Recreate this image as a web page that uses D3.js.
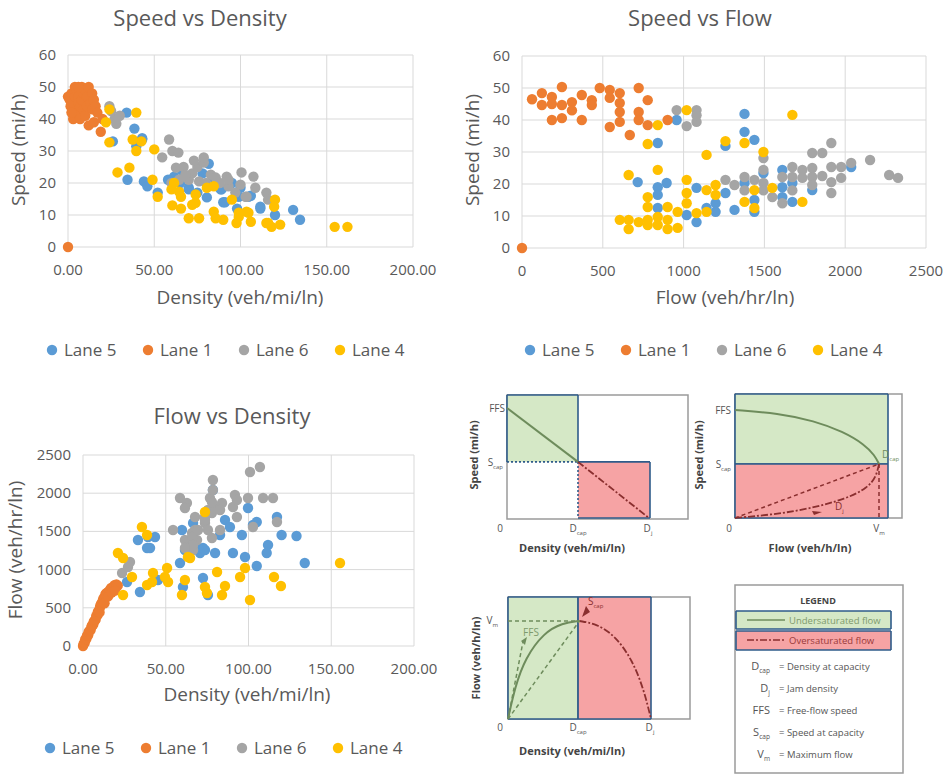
<!DOCTYPE html>
<html>
<head>
<meta charset="utf-8">
<script src="https://cdnjs.cloudflare.com/ajax/libs/d3/7.8.5/d3.min.js"></script>
<style>
  body { margin: 0; background: #fff; }
  svg { display: block; font-family: "Open Sans", sans-serif; }
</style>
</head>
<body>
<div id="chart"></div>
<script>
var lanes = ["Lane 5", "Lane 1", "Lane 6", "Lane 4"];
var laneColors = ["#5b9bd5", "#ed7d31", "#a5a5a5", "#ffc000"];

// Speed vs Density  [density, speed]
var sdLane5 = [[34,42],[38.5,37],[43,34],[39.6,31.5],[26,33],[34.5,21],[44,20.5],[46,19],[52,17],[43,33.6],[61.5,22],[70,18.5],[80.5,15.5],[90,14],[88.5,18],[99,15.7],[98,12],[111.5,12.6],[104.6,15.7],[81.6,26],[89,18],[91,14],[100,18.5],[111.5,12],[130.5,11.6],[134.5,8.5],[106,16],[70,18],[65,20],[75,17],[58,21],[84,21],[95,20],[120,10],[66,24],[78,23]];
var sdLane1 = [[0,0],[0,47],[1,46],[1.5,44],[2,48],[3,45],[3,40],[4,50],[4,47],[5,49],[5,42],[6,47],[6,45],[7,44],[7,40],[8,46],[8,50],[9,48],[9,43],[10,49],[10,41],[11,47],[11,44],[12,50],[12,38],[13,45],[14,43],[14,48],[15,46],[15,39],[16,44],[17,42],[19,36],[20,40],[2,42],[6,50]];
var sdLane6 = [[25,42.5],[27,40],[28,38.5],[24,44],[30,41],[58.6,33.6],[60.5,30],[54.6,28],[64,29.5],[62.6,24.8],[67,25],[72,23],[75,25],[78.7,26.4],[78.7,28],[82.8,22.6],[85.6,21.7],[92,22],[93,19],[100.6,23.3],[107.5,22],[108.6,18.5],[103,15.7],[64.4,21],[70,21],[76,20.5],[93,21],[100,19.5],[115,17],[116,14.8],[103.5,15.7],[80,20],[88,20],[97,17],[68,22.5],[73,27],[60,20]];
var sdLane4 = [[24,43],[22,39],[24,32.7],[39.6,42],[37.5,33.6],[42.5,33],[39.6,30],[50,30.5],[28.7,23.3],[35.6,24.8],[49,21],[52,15.7],[60,18],[60.5,13],[65.5,12],[70,9],[74,13.8],[61.5,20],[64.4,17.3],[65.5,15.7],[72,13.2],[74,16.4],[76,9],[84.5,11],[85.6,9],[90,8.5],[80.5,18.5],[84.5,19],[95,14.8],[99,10.7],[104.6,10.7],[97.7,7.5],[106,7.9],[115,7.5],[99,9.4],[103.5,11],[118,6.3],[123,7],[120,14.8],[119.5,12.6],[154.6,6.3],[162,6.3],[116,7.5]];

// Speed vs Flow  [flow, speed]
var sfLane5 = [[840,32.8],[957,40],[716,20.6],[840,19],[840,16.6],[895,20.3],[840,12.5],[1019,10.3],[1080,8.1],[1080,18.8],[1142,12.5],[1198,14],[1198,11.3],[1259,31.9],[1259,17.2],[1315,11.9],[1377,41.9],[1377,36.3],[1438,33.8],[1377,20.3],[1438,15],[1438,11.3],[1494,23.4],[1611,24.4],[1611,19],[1611,15.9],[1673,20.3],[1673,14.4],[1796,18.1],[2037,25.3]];
var sfLane1 = [[0,0],[62,46.5],[123,48.4],[123,44.7],[185,47.2],[185,45],[185,40],[247,50.3],[247,44.7],[247,40.6],[309,45.6],[309,43],[370,47.8],[370,40],[432,46.2],[432,44.7],[481,50],[543,49.4],[543,46.9],[543,37.8],[605,48.4],[605,45.3],[605,42.5],[605,39.4],[667,35.3],[722,50],[722,42.5],[722,40],[778,46.2],[778,38.4],[901,40]];
var sfLane6 = [[957,43.1],[1019,38.1],[1080,43.1],[1080,39.4],[1080,41.5],[1259,21.3],[1315,19.7],[1377,22.2],[1377,18],[1438,21.3],[1494,28.1],[1494,24.4],[1494,20.3],[1494,18],[1549,15.9],[1611,22.2],[1611,14],[1673,25.3],[1673,22.2],[1673,18],[1735,24.4],[1735,21.9],[1796,29.7],[1796,25],[1796,22.2],[1796,19.7],[1858,29.7],[1858,22.5],[1914,32.8],[1914,25.3],[1914,20.6],[1914,17.2],[1975,25.3],[1975,21.9],[2037,26.6],[2154,27.5],[2272,22.8],[2327,21.9]];
var sfLane4 = [[778,32.5],[840,38.4],[660,22.8],[840,24.4],[778,15.9],[778,12.8],[605,8.8],[660,8.8],[660,5.9],[722,8.1],[778,8.8],[778,7.2],[840,9.7],[840,7.2],[901,12.8],[901,8.8],[901,5.9],[963,6.3],[963,11.3],[1019,21.3],[1019,17.2],[1019,14],[1019,43.1],[1080,10.9],[1142,29.1],[1142,18.1],[1142,11.3],[1198,19.7],[1198,16.6],[1259,33.4],[1377,32.8],[1377,14.4],[1438,18.1],[1438,12.5],[1494,30],[1549,18.8],[1673,41.6],[1735,14.4]];

// Flow vs Density  [density, flow]
var fdLane5 = [[26.6,838],[34.4,707],[33.2,1387],[38.7,1283],[43.5,1427],[45.3,864],[58.6,1086],[60.4,772],[59.8,1518],[61.6,1257],[66.5,1610],[70.7,1217],[72.5,890],[75.5,668],[79.8,1217],[78.5,2042],[39.3,1427],[40.5,1283],[72.5,1283],[82.8,1453],[85.8,1650],[88.8,1558],[96,1453],[99.7,1806],[102.7,1584],[90.6,1217],[97.9,1165],[111.8,1322],[117.2,1688],[120,1453],[111,1217],[105,1047],[105,1623],[129,1440],[134,1086],[73.7,1257],[69.5,1283]];
var fdLane1 = [[0,0],[0.4,30],[1,40],[1.3,85],[2,90],[2.4,135],[3.1,140],[3.4,185],[4,200],[4.6,210],[5.1,250],[5.4,270],[6.2,280],[6.5,320],[7,330],[7.6,345],[8,395],[8.7,400],[9,450],[9.6,455],[10.2,500],[10.5,530],[11,555],[11.7,560],[12,600],[12.4,625],[13.2,630],[13.5,675],[14.1,690],[15,705],[16.2,735],[17,760],[18.3,765],[19,795],[20.2,805],[21,790],[13,560],[15.2,650],[10,440],[17.3,700],[19.4,725]];
var fdLane6 = [[23.6,955],[27.2,1034],[28.4,1100],[54.4,1518],[58.6,1937],[62.8,1872],[61.6,1806],[61.6,1387],[63.4,1283],[65.9,1479],[67.7,1518],[68.9,1387],[66.5,1257],[73.7,1688],[75.5,1780],[78.5,2173],[76.7,1937],[77.9,1413],[73.7,1610],[67.7,1688],[65.9,1427],[66.5,1322],[69.5,1518],[73.7,1650],[75.5,1518],[77.9,1740],[79.8,1806],[77.9,1885],[78.5,2042],[82.8,1518],[84,1872],[82.8,1780],[90.6,1820],[93,1688],[91.8,1976],[93,1911],[99.7,1937],[100.9,2277],[106.9,2343],[108.8,1937],[114.8,1937],[102.7,1558],[117.2,1623],[61.6,1283]];
var fdLane4 = [[21.1,1217],[24.2,1152],[24.2,668],[29.6,903],[35.6,1558],[38.7,1453],[38.7,798],[41.7,838],[42.3,955],[50.8,1021],[49.5,903],[51.4,838],[59.8,668],[61.6,864],[64.7,1152],[73.7,772],[74.9,694],[81,968],[73.7,1754],[84,668],[85.8,785],[94.9,903],[97.9,1021],[100.9,602],[115.4,903],[119.6,785],[155.3,1086],[63.4,1165]];

// schematic curves (normalised units)
var sdUnder = [[0,1],[0.5,0.51]];
var sdOver = [[0.5,0.51],[1,0]];
var sfUnder = [[0,1],[0.3,0.97],[0.55,0.9],[0.75,0.8],[0.9,0.68],[0.97,0.58],[1,0.5]];
var sfOver = [[1,0.5],[0.98,0.38],[0.92,0.28],[0.78,0.18],[0.5,0.08],[0.25,0.03],[0,0]];
var fdUnder = [[0,0],[0.05,0.33],[0.12,0.62],[0.25,0.88],[0.38,0.98],[0.5,1]];
var fdOver = [[0.5,1],[0.62,0.97],[0.75,0.85],[0.87,0.6],[0.95,0.3],[1,0]];

var legendRows = [["D","cap","= Density at capacity"],["D","j","= Jam density"],["FFS","","= Free-flow speed"],["S","cap","= Speed at capacity"],["V","m","= Maximum flow"]];

var svg = d3.select("#chart").append("svg")
    .attr("width", 951)
    .attr("height", 784);

svg.append("rect").attr("width", 951).attr("height", 784).attr("fill", "#fff");

function scatter(opt) {
    var g = svg.append("g");
    var x = d3.scaleLinear().domain(opt.xDomain).range(opt.xRange);
    var y = d3.scaleLinear().domain(opt.yDomain).range(opt.yRange);

    g.selectAll(".vg").data(opt.xTicks).enter().append("line")
        .attr("x1", d => x(d)).attr("x2", d => x(d))
        .attr("y1", opt.yRange[0]).attr("y2", opt.yRange[1])
        .attr("stroke", "#d9d9d9");
    g.selectAll(".hg").data(opt.yTicks).enter().append("line")
        .attr("x1", opt.xRange[0]).attr("x2", opt.xRange[1])
        .attr("y1", d => y(d)).attr("y2", d => y(d))
        .attr("stroke", "#d9d9d9");

    g.selectAll(".xt").data(opt.xTicks).enter().append("text")
        .attr("x", d => x(d)).attr("y", opt.yRange[0] + 28)
        .attr("text-anchor", "middle").attr("font-size", 15).attr("fill", "#595959")
        .text(opt.xFormat);
    g.selectAll(".yt").data(opt.yTicks).enter().append("text")
        .attr("x", opt.xRange[0] - 12).attr("y", d => y(d) + 5)
        .attr("text-anchor", "end").attr("font-size", 15).attr("fill", "#595959")
        .text(d => d);

    g.append("text").attr("x", opt.title[0]).attr("y", opt.title[1])
        .attr("text-anchor", "middle").attr("font-size", 22).attr("fill", "#595959")
        .text(opt.title[2]);
    g.append("text").attr("x", opt.xLabel[0]).attr("y", opt.xLabel[1])
        .attr("text-anchor", "middle").attr("font-size", 19).attr("fill", "#595959")
        .text(opt.xLabel[2]);
    g.append("text")
        .attr("transform", "translate(" + opt.yLabel[0] + "," + opt.yLabel[1] + ") rotate(-90)")
        .attr("text-anchor", "middle").attr("font-size", 19).attr("fill", "#595959")
        .text(opt.yLabel[2]);

    opt.series.forEach(function(s, i) {
        g.append("g").selectAll("circle").data(s).enter().append("circle")
            .attr("cx", d => x(d[0])).attr("cy", d => y(d[1]))
            .attr("r", 5.2).attr("fill", laneColors[i]);
    });

    var lg = g.append("g");
    lanes.forEach(function(l, i) {
        lg.append("circle").attr("cx", opt.legend[0] + i * 96).attr("cy", opt.legend[1] - 6)
            .attr("r", 5.2).attr("fill", laneColors[i]);
        lg.append("text").attr("x", opt.legend[0] + 12 + i * 96).attr("y", opt.legend[1])
            .attr("font-size", 17).attr("fill", "#595959").text(l);
    });
}

scatter({
    xDomain: [0, 200], xRange: [68, 413], yDomain: [0, 60], yRange: [247, 55],
    xTicks: [0, 50, 100, 150, 200], yTicks: [0, 10, 20, 30, 40, 50, 60],
    xFormat: d3.format(".2f"),
    title: [200, 26, "Speed vs Density"],
    xLabel: [240, 304, "Density (veh/mi/ln)"],
    yLabel: [25, 150, "Speed (mi/h)"],
    series: [sdLane5, sdLane1, sdLane6, sdLane4],
    legend: [52, 356]
});

scatter({
    xDomain: [0, 2500], xRange: [522, 926], yDomain: [0, 60], yRange: [248, 56],
    xTicks: [0, 500, 1000, 1500, 2000, 2500], yTicks: [0, 10, 20, 30, 40, 50, 60],
    xFormat: d => d,
    title: [700, 26, "Speed vs Flow"],
    xLabel: [725, 304, "Flow (veh/hr/ln)"],
    yLabel: [479, 150, "Speed (mi/h)"],
    series: [sfLane5, sfLane1, sfLane6, sfLane4],
    legend: [530, 356]
});

scatter({
    xDomain: [0, 200], xRange: [83, 414], yDomain: [0, 2500], yRange: [646, 455],
    xTicks: [0, 50, 100, 150, 200], yTicks: [0, 500, 1000, 1500, 2000, 2500],
    xFormat: d3.format(".2f"),
    title: [232, 424, "Flow vs Density"],
    xLabel: [247, 701, "Density (veh/mi/ln)"],
    yLabel: [22, 550, "Flow (veh/hr/ln)"],
    series: [fdLane5, fdLane1, fdLane6, fdLane4],
    legend: [50, 754]
});

// ---- schematic diagrams ----
var green = "#d5e8c6", pink = "#f6a3a4", edge = "#2e5b8a";
var lineG = "#6e8c5c", lineR = "#8a2f2f";

function box(g, x0, y0, x1, y1, fill, dotted) {
    g.append("rect").attr("x", x0).attr("y", y0).attr("width", x1 - x0).attr("height", y1 - y0)
        .attr("fill", fill);
    var sides = [["top", x0, y0, x1, y0], ["right", x1, y0, x1, y1], ["bottom", x0, y1, x1, y1], ["left", x0, y0, x0, y1]];
    sides.forEach(function(s) {
        g.append("line").attr("x1", s[1]).attr("y1", s[2]).attr("x2", s[3]).attr("y2", s[4])
            .attr("stroke", edge).attr("stroke-width", 1.6)
            .attr("stroke-dasharray", dotted.indexOf(s[0]) >= 0 ? "2,2" : null);
    });
}

function label(g, x, y, main, sub, anchor, size) {
    var t = g.append("text").attr("x", x).attr("y", y).attr("text-anchor", anchor || "middle")
        .attr("font-size", size || 10).attr("fill", "#555");
    t.append("tspan").text(main);
    if (sub) t.append("tspan").attr("font-size", (size || 10) * 0.6).attr("dy", 3).text(sub);
    return t;
}

function axisTitle(g, x, y, text, rot) {
    g.append("text")
        .attr("transform", "translate(" + x + "," + y + ")" + (rot ? " rotate(-90)" : ""))
        .attr("text-anchor", "middle").attr("font-size", 11).attr("font-weight", "bold")
        .attr("fill", "#444").text(text);
}

function frame(g, x0, y0, x1, y1) {
    g.append("rect").attr("x", x0).attr("y", y0).attr("width", x1 - x0).attr("height", y1 - y0)
        .attr("fill", "none").attr("stroke", "#9a9a9a").attr("stroke-width", 1.5);
}

// Panel A: speed vs density
(function() {
    var g = svg.append("g");
    var x = d3.scaleLinear([0, 1], [507, 649]);
    var y = d3.scaleLinear([0, 1], [518, 408]);
    var ln = d3.line().x(d => x(d[0])).y(d => y(d[1]));
    frame(g, 507, 395, 688, 519);
    box(g, 507, 395, x(0.5), y(0.51), green, ["bottom"]);
    box(g, x(0.5), y(0.51), 650, 518, pink, ["left"]);
    g.append("path").attr("d", ln(sdUnder)).attr("fill", "none").attr("stroke", lineG).attr("stroke-width", 2);
    g.append("path").attr("d", ln(sdOver)).attr("fill", "none").attr("stroke", lineR).attr("stroke-width", 1.8)
        .attr("stroke-dasharray", "7,2,2,2");
    label(g, 505, 412, "FFS", "", "end");
    label(g, 503, 466, "S", "cap", "end");
    label(g, 500, 532, "0");
    label(g, x(0.5), 532, "D", "cap");
    label(g, 648, 532, "D", "j");
    axisTitle(g, 572, 552, "Density (veh/mi/ln)");
    axisTitle(g, 478, 455, "Speed (mi/h)", true);
})();

// Panel B: speed vs flow
(function() {
    var g = svg.append("g");
    var x = d3.scaleLinear([0, 1], [735, 879]);
    var y = d3.scaleLinear([0, 1], [518, 410]);
    var ln = d3.line().x(d => x(d[0])).y(d => y(d[1])).curve(d3.curveBasis);
    frame(g, 735, 394, 902, 518);
    box(g, 735, 394, 888, y(0.5), green, []);
    box(g, 735, y(0.5), 888, 518, pink, []);
    g.append("path").attr("d", ln(sfUnder)).attr("fill", "none").attr("stroke", lineG).attr("stroke-width", 2);
    g.append("path").attr("d", ln(sfOver)).attr("fill", "none").attr("stroke", lineR).attr("stroke-width", 1.8)
        .attr("stroke-dasharray", "7,2,2,2");
    g.append("line").attr("x1", x(0)).attr("y1", y(0)).attr("x2", x(1)).attr("y2", y(0.5))
        .attr("stroke", lineR).attr("stroke-width", 1.5).attr("stroke-dasharray", "4,3");
    g.append("line").attr("x1", x(1)).attr("y1", y(0.5)).attr("x2", x(1)).attr("y2", y(0))
        .attr("stroke", lineR).attr("stroke-width", 1.5).attr("stroke-dasharray", "4,3");
    g.append("path").attr("d", "M812,511 L822,512 L814,515 Z").attr("fill", lineR);
    label(g, 731, 414, "FFS", "", "end");
    label(g, 731, 468, "S", "cap", "end");
    label(g, 882, 458, "D", "cap", "start").attr("fill", "#6e8c5c");
    label(g, 835, 510, "D", "j", "start").attr("fill", "#8a2f2f");
    label(g, 729, 532, "0");
    label(g, x(1), 532, "V", "m");
    axisTitle(g, 810, 552, "Flow (veh/h/ln)");
    axisTitle(g, 703, 455, "Speed (mi/h)", true);
})();

// Panel C: flow vs density
(function() {
    var g = svg.append("g");
    var x = d3.scaleLinear([0, 1], [508, 651]);
    var y = d3.scaleLinear([0, 1], [719, 621]);
    var ln = d3.line().x(d => x(d[0])).y(d => y(d[1])).curve(d3.curveBasis);
    frame(g, 508, 597, 690, 719);
    box(g, 508, 597, x(0.49), 719, green, []);
    box(g, x(0.49), 597, 651, 719, pink, []);
    g.append("path").attr("d", ln(fdUnder)).attr("fill", "none").attr("stroke", lineG).attr("stroke-width", 2);
    g.append("path").attr("d", ln(fdOver)).attr("fill", "none").attr("stroke", lineR).attr("stroke-width", 1.8)
        .attr("stroke-dasharray", "7,2,2,2");
    var dash = [[[0, 1], [0.5, 1]], [[0, 0], [0.5, 1]], [[0, 0], [0.105, 0.79]]];
    dash.forEach(function(p) {
        g.append("line").attr("x1", x(p[0][0])).attr("y1", y(p[0][1])).attr("x2", x(p[1][0])).attr("y2", y(p[1][1]))
            .attr("stroke", lineG).attr("stroke-width", 1.5).attr("stroke-dasharray", "4,3");
    });
    g.append("path").attr("d", "M521,641 L527,637 L525,645 Z").attr("fill", lineG);
    g.append("path").attr("d", "M586,606 L582,617 L590,612 Z").attr("fill", lineR);
    label(g, 531, 636, "FFS", "", "middle").attr("fill", "#7d9a6c");
    label(g, 588, 605, "S", "cap", "start").attr("fill", "#8a2f2f");
    label(g, 498, 624, "V", "m", "end");
    label(g, 500, 731, "0");
    label(g, 578, 731, "D", "cap");
    label(g, 650, 731, "D", "j");
    axisTitle(g, 572, 755, "Density (veh/mi/ln)");
    axisTitle(g, 480, 658, "Flow (veh/h/ln)", true);
})();

// Panel D: legend
(function() {
    var g = svg.append("g");
    frame(g, 735, 585, 903, 773);
    g.append("text").attr("x", 818, 0).attr("y", 604).attr("text-anchor", "middle")
        .attr("font-size", 9).attr("font-weight", "bold").attr("fill", "#444").text("LEGEND");
    box(g, 736, 611, 891, 629, green, []);
    box(g, 736, 631, 891, 650, pink, []);
    g.append("line").attr("x1", 747).attr("x2", 785).attr("y1", 620).attr("y2", 620)
        .attr("stroke", lineG).attr("stroke-width", 1.5);
    g.append("text").attr("x", 789).attr("y", 624).attr("font-size", 9.5).attr("fill", "#7d9a6c")
        .text("Undersaturated flow");
    g.append("line").attr("x1", 747).attr("x2", 785).attr("y1", 640).attr("y2", 640)
        .attr("stroke", lineR).attr("stroke-width", 1.5).attr("stroke-dasharray", "7,2,2,2");
    g.append("text").attr("x", 789).attr("y", 644).attr("font-size", 9.5).attr("fill", "#9a3a3a")
        .text("Oversaturated flow");
    legendRows.forEach(function(r, i) {
        var yy = 670 + i * 22;
        label(g, 770, yy, r[0], r[1], "end", 11);
        g.append("text").attr("x", 779).attr("y", yy).attr("font-size", 9.5).attr("fill", "#555").text(r[2]);
    });
})();
</script>
</body>
</html>
